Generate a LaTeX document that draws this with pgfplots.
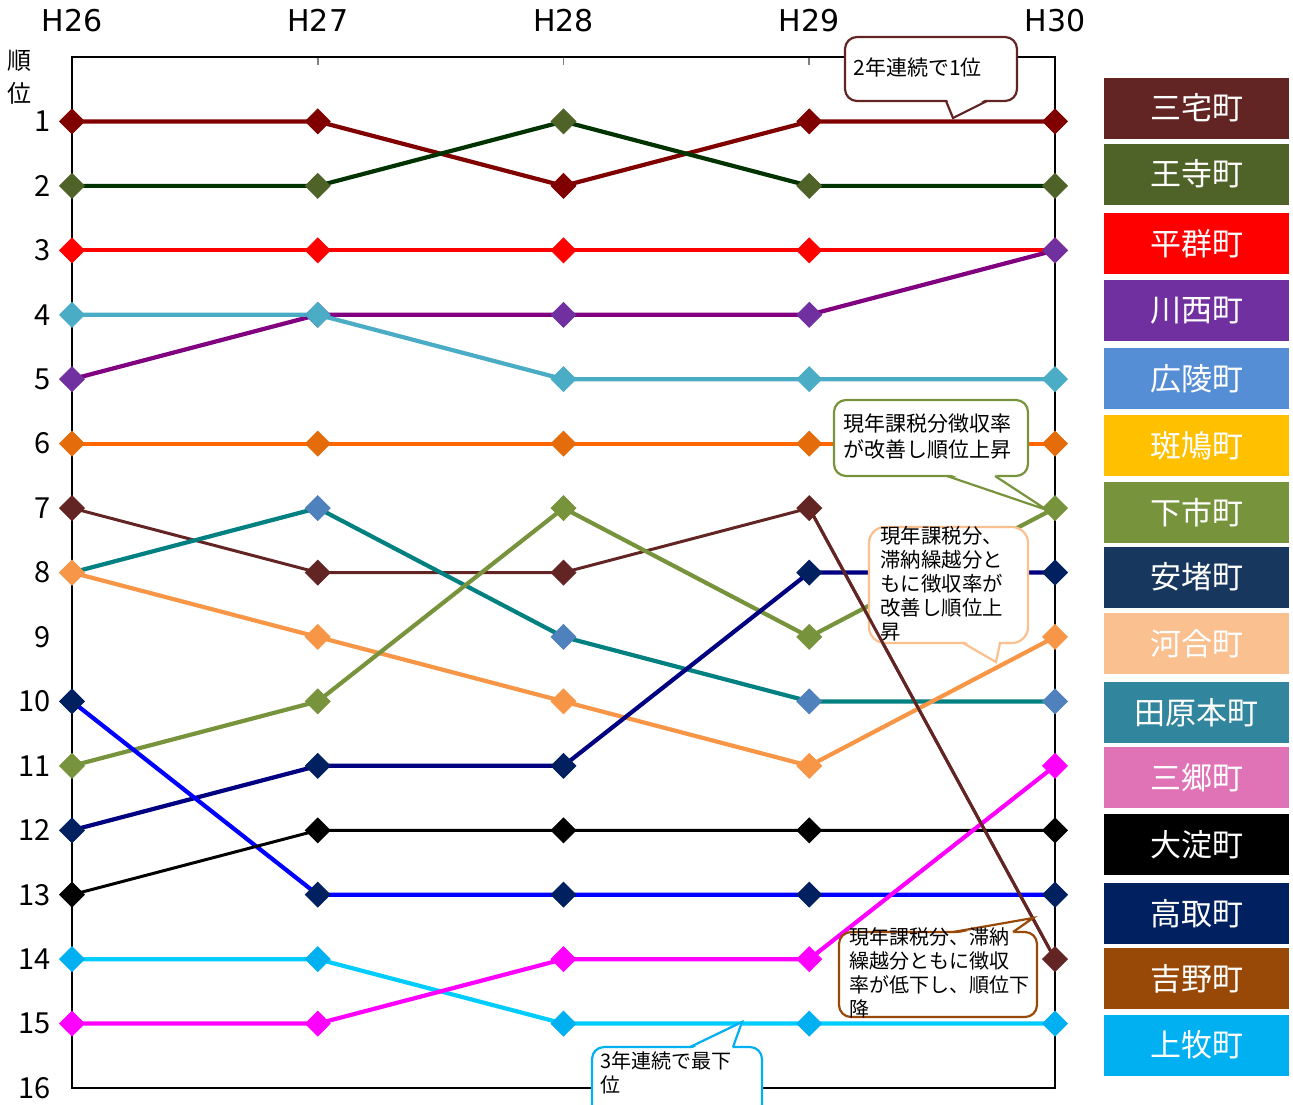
\documentclass[border=0pt]{standalone}
\usepackage{pgfplots}
\pgfplotsset{compat=1.18}
\usepackage{fontspec}
\setmainfont{Noto Sans CJK JP}
\newfontfamily\dejavu{DejaVu Sans}

% series colours (line / marker)
\definecolor{miyakeL}{HTML}{800000}
\definecolor{ojiL}{HTML}{003300}
\definecolor{ojiM}{HTML}{4F6228}
\definecolor{heguri}{HTML}{FF0000}
\definecolor{kawanishiL}{HTML}{800080}
\definecolor{kawanishiM}{HTML}{7030A0}
\definecolor{koryo}{HTML}{4BACC6}
\definecolor{ikarugaL}{HTML}{FF6600}
\definecolor{ikarugaM}{HTML}{E46C0A}
\definecolor{brownS}{HTML}{632523}
\definecolor{tealL}{HTML}{008080}
\definecolor{tealM}{HTML}{4F81BD}
\definecolor{ltorange}{HTML}{F79646}
\definecolor{olive}{HTML}{77933C}
\definecolor{navyL}{HTML}{000080}
\definecolor{navyM}{HTML}{002060}
\definecolor{blueL}{HTML}{0000FF}
\definecolor{skyL}{HTML}{00CCFF}
\definecolor{skyM}{HTML}{00B0F0}
\definecolor{magentaS}{HTML}{FF00FF}
% label boxes
\definecolor{b1}{HTML}{632523}
\definecolor{b2}{HTML}{4F6228}
\definecolor{b3}{HTML}{FF0000}
\definecolor{b4}{HTML}{7030A0}
\definecolor{b5}{HTML}{558ED5}
\definecolor{b6}{HTML}{FFC000}
\definecolor{b7}{HTML}{77933C}
\definecolor{b8}{HTML}{17375E}
\definecolor{b9}{HTML}{FAC090}
\definecolor{b10}{HTML}{31859C}
\definecolor{b11}{HTML}{E072B6}
\definecolor{b12}{HTML}{000000}
\definecolor{b13}{HTML}{002060}
\definecolor{b14}{HTML}{984807}
\definecolor{b15}{HTML}{00B0F0}

\pgfplotsset{
  rankaxis/.style={
    at={(281.75pt,-286.25pt)}, anchor=center,
    scale only axis, width=491.5pt, height=515.5pt,
    xmin=0, xmax=4, ymin=0, ymax=16, y dir=reverse,
  },
  bump/.style 2 args={line width=2.1pt, color=#1, mark=square*, mark size=4.4pt,
    mark options={solid, rotate=45, fill=#2, draw=#2, line width=0.4pt}},
}

\begin{document}
\begin{tikzpicture}
\useasboundingbox (0,0) rectangle (646.5pt,-552pt);
\begin{axis}[rankaxis,
  clip=false,
  axis line style={line width=0.8pt},
  xtick={0,1,2,3,4}, xticklabels={H26,H27,H28,H29,H30},
  xtick pos=right, xticklabel pos=right,
  tick align=inside, major tick length=4pt,
  xtick style={gray, line width=0.8pt},
  xticklabel style={font=\dejavu\fontsize{15}{18}\selectfont, yshift=9pt},
  ytick={1,2,...,16}, ytick pos=left,
  ytick style={draw=none},
  yticklabel style={font=\fontsize{14.5}{17}\selectfont, xshift=-7pt},
  /pgf/number format/assume math mode=true,
]
\addplot[bump={miyakeL}{miyakeL}] coordinates {(0,1) (1,1) (2,2) (3,1) (4,1)};
\addplot[bump={ojiL}{ojiM}] coordinates {(0,2) (1,2) (2,1) (3,2) (4,2)};
\addplot[bump={heguri}{heguri}] coordinates {(0,3) (1,3) (2,3) (3,3) (4,3)};
\addplot[bump={kawanishiL}{kawanishiM}] coordinates {(0,5) (1,4) (2,4) (3,4) (4,3)};
\addplot[bump={koryo}{koryo}] coordinates {(0,4) (1,4) (2,5) (3,5) (4,5)};
\addplot[bump={ikarugaL}{ikarugaM}] coordinates {(0,6) (1,6) (2,6) (3,6) (4,6)};
\addplot[bump={brownS}{brownS}, line width=1.5pt] coordinates {(0,7) (1,8) (2,8) (3,7) (4,14)};
\addplot[bump={tealL}{tealM}] coordinates {(0,8) (1,7) (2,9) (3,10) (4,10)};
\addplot[bump={ltorange}{ltorange}] coordinates {(0,8) (1,9) (2,10) (3,11) (4,9)};
\addplot[bump={olive}{olive}] coordinates {(0,11) (1,10) (2,7) (3,9) (4,7)};
\addplot[bump={navyL}{navyM}] coordinates {(0,12) (1,11) (2,11) (3,8) (4,8)};
\addplot[bump={blueL}{navyM}] coordinates {(0,10) (1,13) (2,13) (3,13) (4,13)};
\addplot[bump={black}{black}, line width=1.5pt] coordinates {(0,13) (1,12) (2,12) (3,12) (4,12)};
\addplot[bump={skyL}{skyM}] coordinates {(0,14) (1,14) (2,15) (3,15) (4,15)};
\addplot[bump={magentaS}{magentaS}] coordinates {(0,15) (1,15) (2,14) (3,14) (4,11)};
\end{axis}

\begin{scope}[x=0.5pt, y=-0.5pt]
% axis title
\node[align=center, font=\fontsize{12}{16.5}\selectfont, inner sep=0] at (20,77) {順\\位};

% label boxes
\foreach \c/\y/\t in {b1/108/三宅町, b2/174/王寺町, b3/243.5/平群町, b4/310.5/川西町,
  b5/378.5/広陵町, b6/445.5/斑鳩町, b7/512.5/下市町, b8/577/安堵町, b9/643.5/河合町,
  b10/712.5/田原本町, b11/777.5/三郷町, b12/844.5/大淀町, b13/913.5/高取町,
  b14/978.5/吉野町, b15/1045/上牧町}
  \node[fill=\c, text=white, minimum width=92.5pt, minimum height=30.5pt, inner sep=0,
    font=\fontsize{15.5}{18}\selectfont] at (1196.5,\y) {\t};

% callout: 2年連続で1位
\filldraw[fill=white, draw=brownS, line width=1.1pt, rounded corners=6pt] (845,37) rectangle (1017,101);
\fill[white] (947,99) -- (953,118) -- (986,99) -- cycle;
\draw[brownS, line width=1.1pt] (946,101) -- (953,118) -- (987,101);
\node[anchor=north west, inner sep=0, font=\fontsize{10.5}{12}\selectfont] at (853,57) {2年連続で1位};

% callout: 下市町
\filldraw[fill=white, draw=olive, line width=1.1pt, rounded corners=6pt] (834,400) rectangle (1028,476);
\fill[white] (949,474) -- (1047,510) -- (994,474) -- cycle;
\draw[olive, line width=1.1pt] (947,476) -- (1047,510) -- (995,476);
\node[anchor=north west, inner sep=0, align=left, font=\fontsize{10.5}{13}\selectfont] at (843,413)
  {現年課税分徴収率\\が改善し順位上昇};

% callout: 河合町
\filldraw[fill=white, draw=b9, line width=1.1pt, rounded corners=8pt] (869,527) rectangle (1028,643);
\fill[white] (964,641) -- (996,662) -- (999,641) -- cycle;
\draw[b9, line width=1.1pt] (963,643) -- (996,662) -- (1000,643);
\node[anchor=north west, inner sep=0, align=left, font=\fontsize{10.2}{12}\selectfont] at (880,526)
  {現年課税分、\\滞納繰越分と\\もに徴収率が\\改善し順位上\\昇};

% callout: 3年連続で最下位
\filldraw[fill=white, draw=skyM, line width=1.1pt, rounded corners=6pt] (592,1047) rectangle (762,1130);
\fill[white] (691,1049) -- (742,1022) -- (732,1049) -- cycle;
\draw[skyM, line width=1.1pt] (690,1047) -- (742,1022) -- (733,1047);
\node[anchor=north west, inner sep=0, align=left, font=\fontsize{10}{12}\selectfont] at (600,1051)
  {3年連続で最下\\位};
\end{scope}

% last segment of 吉野町 line lies over the 河合町 callout
\begin{axis}[rankaxis, hide axis, clip=false]
\addplot[brownS, line width=1.5pt] coordinates {(3,7) (4,14)};
\end{axis}

\begin{scope}[x=0.5pt, y=-0.5pt]
% callout: 吉野町
\filldraw[fill=white, draw=b14, line width=1.1pt, rounded corners=6pt] (839,932) rectangle (1037,1017);
\fill[white] (954,934) -- (1033,918) -- (1012,934) -- cycle;
\draw[b14, line width=1.1pt] (953,932) -- (1033,918) -- (1013,932);
\node[anchor=north west, inner sep=0, align=left, font=\fontsize{10}{12}\selectfont] at (849,927)
  {現年課税分、滞納\\繰越分ともに徴収\\率が低下し、順位下\\降};
\end{scope}
\end{tikzpicture}
\end{document}
